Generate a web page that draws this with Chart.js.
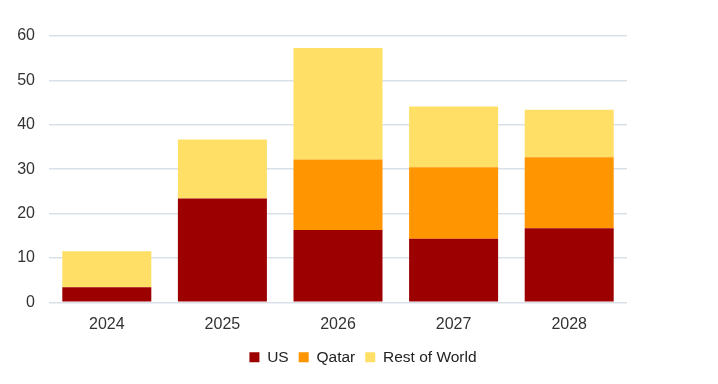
<!DOCTYPE html>
<html>
<head>
<meta charset="utf-8">
<script src="https://cdn.jsdelivr.net/npm/chart.js@4"></script>
<style>
  html, body { margin: 0; padding: 0; background: #fff; }
  #wrap { width: 718px; height: 384px; }
</style>
</head>
<body>
<div id="wrap"><canvas id="lngChart"></canvas></div>
<script>
const years = ['2024', '2025', '2026', '2027', '2028'];
const usValues = [3.4, 23.4, 16.3, 14.3, 16.7];
const qatarValues = [0, 0, 15.9, 16.1, 16.0];
const restValues = [8.1, 13.3, 25.1, 13.7, 10.7];

const font = "'Liberation Sans', Arial, sans-serif";

// legend in the original is centred on the whole picture, nudge it a bit
const legendShift = {
    id: 'legendShift',
    afterLayout(chart) {
        chart.legend.left += 4;
        chart.legend.right += 4;
    }
};

new Chart(document.getElementById('lngChart'), {
    type: 'bar',
    data: {
        labels: years,
        datasets: [
            { label: 'US', data: usValues, backgroundColor: '#9c0000' },
            { label: 'Qatar', data: qatarValues, backgroundColor: '#ff9500' },
            { label: 'Rest of World', data: restValues, backgroundColor: '#ffdf66' }
        ]
    },
    options: {
        responsive: true,
        maintainAspectRatio: false,
        animation: false,
        layout: { padding: { left: 0, right: 0, top: 36, bottom: 9 } },
        datasets: { bar: { barPercentage: 0.77, categoryPercentage: 1 } },
        scales: {
            x: {
                stacked: true,
                grid: { display: false },
                border: { display: false },
                ticks: { color: '#333', font: { family: font, size: 16 }, padding: 5 }
            },
            y: {
                stacked: true,
                min: 0,
                max: 60,
                afterFit(scale) { scale.width = 49; },
                ticks: { stepSize: 10, color: '#333', font: { family: font, size: 16 }, padding: 14 },
                grid: { color: '#d9e0e8', lineWidth: 1.5, drawTicks: false },
                border: { display: false }
            },
            yRight: {
                position: 'right',
                afterFit(scale) { scale.width = 91; },
                grid: { display: false },
                ticks: { display: false },
                border: { display: false }
            }
        },
        plugins: {
            legend: {
                position: 'bottom',
                labels: {
                    boxWidth: 10,
                    boxHeight: 10,
                    padding: 10,
                    color: '#222',
                    font: { family: font, size: 15.5 }
                }
            },
            tooltip: { enabled: false }
        }
    },
    plugins: [legendShift]
});
</script>
</body>
</html>
